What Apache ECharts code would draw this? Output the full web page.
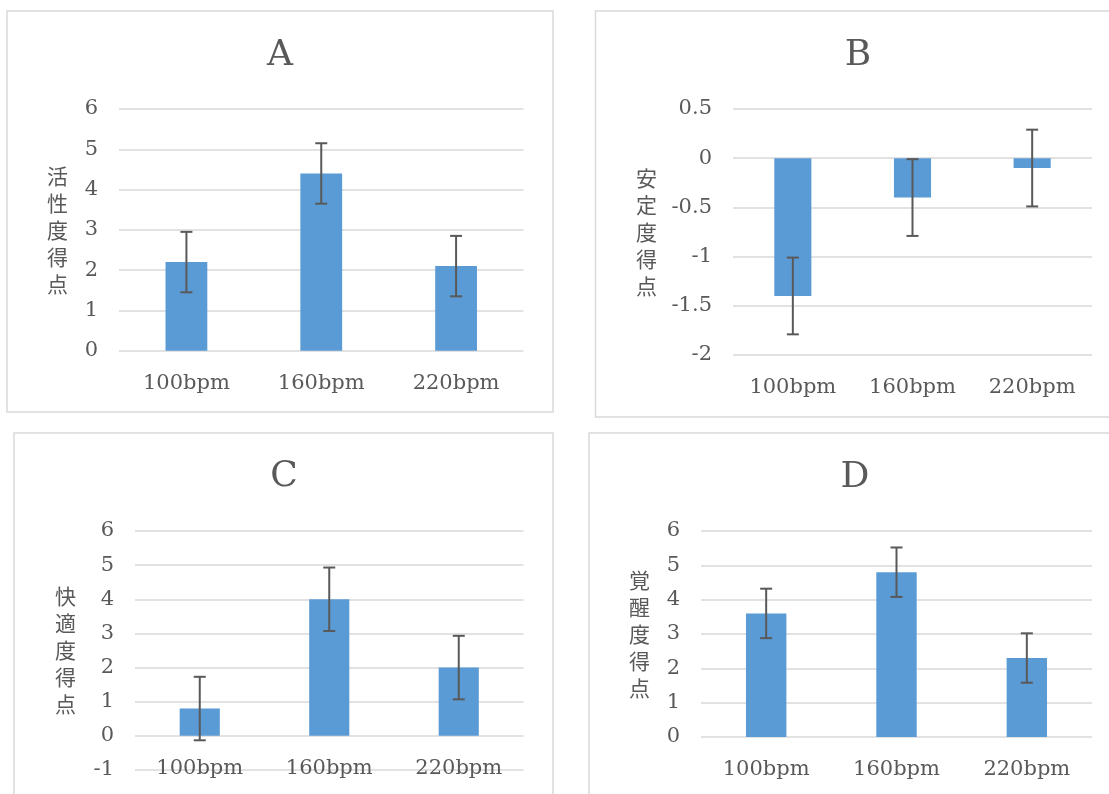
<!DOCTYPE html>
<html>
<head>
<meta charset="utf-8">
<script src="https://cdn.jsdelivr.net/npm/echarts@6/dist/echarts.min.js"></script>
<style>
html,body{margin:0;padding:0;background:#fff;}
#main{width:1109px;height:794px;}
</style>
</head>
<body>
<div id="main"></div>
<script>
// ---- data ----
const categories = ['100bpm', '160bpm', '220bpm'];
const titles = ['A', 'B', 'C', 'D'];
const axisNames = ['活性度得点', '安定度得点', '快適度得点', '覚醒度得点'];
const valuesA = [2.2, 4.4, 2.1];
const errorsA = [0.75, 0.75, 0.75];
const valuesB = [-1.4, -0.4, -0.1];
const errorsB = [0.39, 0.39, 0.39];
const valuesC = [0.8, 4.0, 2.0];
const errorsC = [0.93, 0.93, 0.93];
const valuesD = [3.6, 4.8, 2.3];
const errorsD = [0.72, 0.72, 0.72];
const yMins = [0, -2, -1, 0];
const yMaxs = [6, 0.5, 6, 6];
const yIntervals = [1, 0.5, 1, 1];

const allValues = [valuesA, valuesB, valuesC, valuesD];
const allErrors = [errorsA, errorsB, errorsC, errorsD];

// ---- layout / style ----
const TXT = '#595959';
const GRID = '#d9d9d9';
const SERIF = '"DejaVu Serif", "Liberation Serif", serif';
const CJK = '"Noto Sans CJK JP", sans-serif';

const grids = [
  {left: 119, top: 109, width: 404.5, height: 241.7},
  {left: 733, top: 109, width: 359, height: 246},
  {left: 135, top: 531, width: 388.5, height: 239},
  {left: 701, top: 531, width: 391, height: 206}
];
const boxes = [
  {x: 7, y: 11, w: 546, h: 401},
  {x: 595.5, y: 11, w: 526, h: 406},
  {x: 14, y: 433, w: 539, h: 420},
  {x: 589, y: 433, w: 532, h: 420}
];
const titlePos = [
  {x: 280, y: 38},
  {x: 858, y: 38},
  {x: 284, y: 459},
  {x: 855, y: 460}
];
const nameGaps = [51, 76, 59, 51];
// category labels sit next to the zero line (C) except B, where they sit at the bottom
const labelsAtZero = [true, false, true, true];

function zeroOffset(i) {
  if (!labelsAtZero[i] || yMins[i] >= 0) return 0;
  return -grids[i].height * (0 - yMins[i]) / (yMaxs[i] - yMins[i]);
}

const option = {
  animation: false,
  backgroundColor: '#fff',
  title: titles.map((t, i) => ({
    text: t,
    left: titlePos[i].x,
    top: titlePos[i].y,
    textAlign: 'center',
    padding: 0,
    textStyle: {fontFamily: SERIF, fontSize: 36, fontWeight: 'normal', color: TXT}
  })),
  graphic: boxes.map(b => ({
    type: 'rect',
    silent: true,
    z: -10,
    shape: {x: b.x, y: b.y, width: b.w, height: b.h},
    style: {fill: 'none', stroke: GRID, lineWidth: 1.5}
  })),
  grid: grids.map(g => Object.assign({containLabel: false, outerBoundsMode: 'none'}, g)),
  xAxis: grids.map((g, i) => ({
    type: 'category',
    gridIndex: i,
    data: categories,
    offset: zeroOffset(i),
    axisLine: {show: false, onZero: false},
    axisTick: {show: false},
    splitLine: {show: false},
    axisLabel: {fontFamily: SERIF, fontSize: 21, color: TXT, margin: 22}
  })),
  yAxis: grids.map((g, i) => ({
    type: 'value',
    gridIndex: i,
    min: yMins[i],
    max: yMaxs[i],
    interval: yIntervals[i],
    axisLine: {show: false},
    axisTick: {show: false},
    splitLine: {show: true, lineStyle: {color: GRID, width: 1.5}},
    axisLabel: {fontFamily: SERIF, fontSize: 21, color: TXT, margin: 21},
    name: axisNames[i].split('').join('\n'),
    nameLocation: 'middle',
    nameRotate: 0,
    nameGap: nameGaps[i],
    nameTextStyle: {fontFamily: CJK, fontSize: 21, lineHeight: 27, color: TXT, align: 'right', verticalAlign: 'middle'}
  })),
  series: []
};

allValues.forEach((vals, i) => {
  option.series.push({
    type: 'bar',
    xAxisIndex: i,
    yAxisIndex: i,
    data: vals,
    barWidth: '31%',
    itemStyle: {color: '#5b9bd5'},
    silent: true
  });
  option.series.push({
    type: 'custom',
    xAxisIndex: i,
    yAxisIndex: i,
    z: 5,
    silent: true,
    data: vals.map((v, k) => [k, v - allErrors[i][k], v + allErrors[i][k]]),
    encode: {x: 0, y: [1, 2]},
    renderItem: function (params, api) {
      const x = api.value(0);
      const lo = api.coord([x, api.value(1)]);
      const hi = api.coord([x, api.value(2)]);
      const hw = 6;
      const st = {stroke: '#595959', lineWidth: 2};
      return {
        type: 'group',
        children: [
          {type: 'line', shape: {x1: hi[0], y1: hi[1], x2: lo[0], y2: lo[1]}, style: st},
          {type: 'line', shape: {x1: hi[0] - hw, y1: hi[1], x2: hi[0] + hw, y2: hi[1]}, style: st},
          {type: 'line', shape: {x1: lo[0] - hw, y1: lo[1], x2: lo[0] + hw, y2: lo[1]}, style: st}
        ]
      };
    }
  });
});

const chart = echarts.init(document.getElementById('main'), null, {renderer: 'canvas'});
chart.setOption(option);
</script>
</body>
</html>
